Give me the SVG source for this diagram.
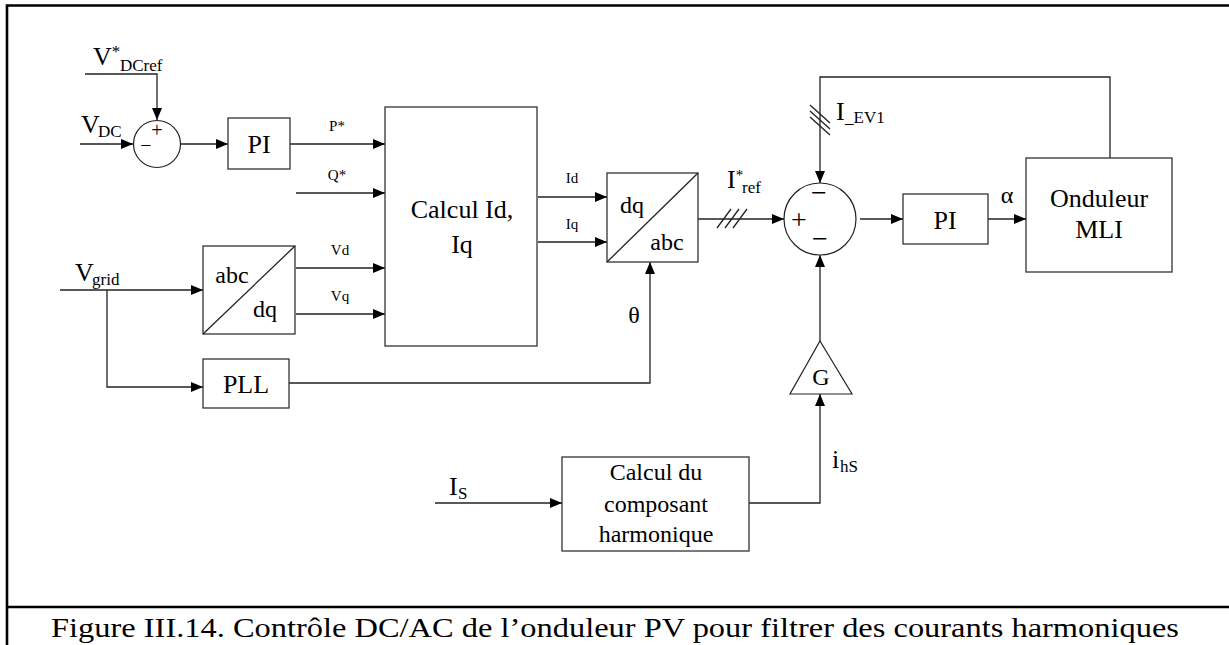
<svg xmlns="http://www.w3.org/2000/svg" width="1229" height="645" viewBox="0 0 1229 645">
<defs>
<marker id="arr" markerUnits="userSpaceOnUse" markerWidth="13" markerHeight="11" refX="12" refY="5" orient="auto" viewBox="0 0 13 11">
<path d="M0,0 L12,5 L0,10 z" fill="#000"/>
</marker>
<style>
text{font-family:"Liberation Serif","Times New Roman",serif;fill:#000}
.box{fill:#fff;stroke:#333;stroke-width:1.3}
.ln{fill:none;stroke:#222;stroke-width:1.3}
.frame{fill:none;stroke:#000;stroke-width:2.6}
.big{font-size:26px}
.mid{font-size:24px}
.sm{font-size:15px}
.sub{font-size:17px}
</style>
</defs>
<rect x="0" y="0" width="1229" height="645" fill="#fff"/>
<g id="frame">
<path class="frame" d="M7,645 V5.5 H1229"/>
<path class="frame" d="M7,607 H1229"/>
</g>

<g id="connectors">
<path class="ln" d="M85,74 H157 V120" marker-end="url(#arr)"/>
<path class="ln" d="M80,144 H133" marker-end="url(#arr)"/>
<path class="ln" d="M180,144 H228" marker-end="url(#arr)"/>
<path class="ln" d="M290,144 H385" marker-end="url(#arr)"/>
<path class="ln" d="M296,193 H385" marker-end="url(#arr)"/>
<path class="ln" d="M60,290 H203" marker-end="url(#arr)"/>
<path class="ln" d="M107,290 V387 H203" marker-end="url(#arr)"/>
<path class="ln" d="M296,268 H385" marker-end="url(#arr)"/>
<path class="ln" d="M296,314 H385" marker-end="url(#arr)"/>
<path class="ln" d="M538,197 H607" marker-end="url(#arr)"/>
<path class="ln" d="M538,242 H607" marker-end="url(#arr)"/>
<path class="ln" d="M289,383 H650 V262" marker-end="url(#arr)"/>
<path class="ln" d="M698,219 H784" marker-end="url(#arr)"/>
<path class="ln" d="M717,228 L731,209 M725,228 L739,209 M733,228 L747,209"/>
<path class="ln" d="M1110,158 V77 H820 V183" marker-end="url(#arr)"/>
<path class="ln" d="M810,105 L830,123 M810,111 L830,129 M810,117 L830,135"/>
<path class="ln" d="M860,219 H903" marker-end="url(#arr)"/>
<path class="ln" d="M988,219 H1026" marker-end="url(#arr)"/>
<path class="ln" d="M820,341 V255" marker-end="url(#arr)"/>
<path class="ln" d="M749,503 H820 V394" marker-end="url(#arr)"/>
<path class="ln" d="M435,503 H562" marker-end="url(#arr)"/>
</g>

<g id="labels">
<text class="big" x="93" y="65">V<tspan font-size="17" dy="-8">*</tspan><tspan font-size="17" x="120" y="71">DCref</tspan></text>
<text class="big" x="81" y="133">V<tspan class="sub" x="98" y="137">DC</tspan></text>
<text class="sm" x="337" y="131" text-anchor="middle">P*</text>
<text class="sm" x="337" y="180" text-anchor="middle">Q*</text>
<text class="big" x="75" y="281">V<tspan class="sub" x="92" y="285">grid</tspan></text>
<text class="sm" x="340" y="255" text-anchor="middle">Vd</text>
<text class="sm" x="340" y="301" text-anchor="middle">Vq</text>
<text class="sm" x="572" y="183" text-anchor="middle">Id</text>
<text class="sm" x="572" y="229" text-anchor="middle">Iq</text>
<text class="mid" x="634" y="323" text-anchor="middle">θ</text>
<text class="big" x="727" y="188">I<tspan font-size="15" dy="-8">*</tspan><tspan class="sub" x="742" y="193">ref</tspan></text>
<text class="big" x="836" y="120">I<tspan class="sub" x="845" y="123">_EV1</tspan></text>
<text class="mid" x="1007" y="203" text-anchor="middle">α</text>
<text class="big" x="832" y="468">i<tspan class="sub" x="840" y="472">hS</tspan></text>
<text class="big" x="449" y="495">I<tspan class="sub" x="458" y="499">S</tspan></text>
</g>

<g id="sum1">
<circle cx="157" cy="144" r="23.5" fill="#fff" stroke="#222" stroke-width="1.2"/>
<text x="157" y="137" font-size="20" text-anchor="middle">+</text>
<text x="146" y="152" font-size="20" text-anchor="middle">−</text>
</g>
<g id="pi1">
<rect class="box" x="228" y="118" width="62" height="51"/>
<text class="big" x="259" y="153" text-anchor="middle">PI</text>
</g>
<g id="calcul-idiq">
<rect class="box" x="385" y="107" width="152" height="239"/>
<text class="big" x="462" y="218" text-anchor="middle">Calcul Id,</text>
<text class="big" x="462" y="253" text-anchor="middle">Iq</text>
</g>
<g id="abc-dq">
<rect class="box" x="203" y="246" width="92" height="88"/>
<path class="ln" d="M203,334 L295,246"/>
<text class="mid" x="232" y="283" text-anchor="middle">abc</text>
<text class="mid" x="265" y="317" text-anchor="middle">dq</text>
</g>
<g id="pll">
<rect class="box" x="203" y="359" width="86" height="49"/>
<text class="big" x="246" y="393" text-anchor="middle">PLL</text>
</g>
<g id="dq-abc">
<rect class="box" x="607" y="173" width="91" height="89"/>
<path class="ln" d="M607,262 L698,173"/>
<text class="mid" x="632" y="213" text-anchor="middle">dq</text>
<text class="mid" x="667" y="250" text-anchor="middle">abc</text>
</g>
<g id="sum2">
<circle cx="820" cy="219" r="36" fill="#fff" stroke="#222" stroke-width="1.2"/>
<text x="819" y="202" font-size="28" text-anchor="middle" fill="#666">−</text>
<text x="799" y="229" font-size="28" text-anchor="middle">+</text>
<text x="820" y="248" font-size="28" text-anchor="middle">−</text>
</g>
<g id="pi2">
<rect class="box" x="903" y="194" width="85" height="50"/>
<text class="big" x="945" y="229" text-anchor="middle">PI</text>
</g>
<g id="onduleur">
<rect class="box" x="1026" y="158" width="146" height="114"/>
<text class="big" x="1099" y="207" text-anchor="middle">Onduleur</text>
<text class="big" x="1099" y="238" text-anchor="middle">MLI</text>
</g>
<g id="gain">
<path d="M820,341 L852,394 L790,394 Z" fill="#fff" stroke="#222" stroke-width="1.2"/>
<text class="mid" x="821" y="385" text-anchor="middle">G</text>
</g>
<g id="calcul-harmonique">
<rect class="box" x="562" y="457" width="187" height="94"/>
<text class="mid" x="656" y="480" text-anchor="middle">Calcul du</text>
<text class="mid" x="656" y="512" text-anchor="middle">composant</text>
<text class="mid" x="656" y="542" text-anchor="middle">harmonique</text>
</g>
<g id="caption">
<text x="51" y="637" font-size="27" textLength="1128" lengthAdjust="spacingAndGlyphs">Figure III.14. Contrôle DC/AC de l’onduleur PV pour filtrer des courants harmoniques</text>
</g>
</svg>
